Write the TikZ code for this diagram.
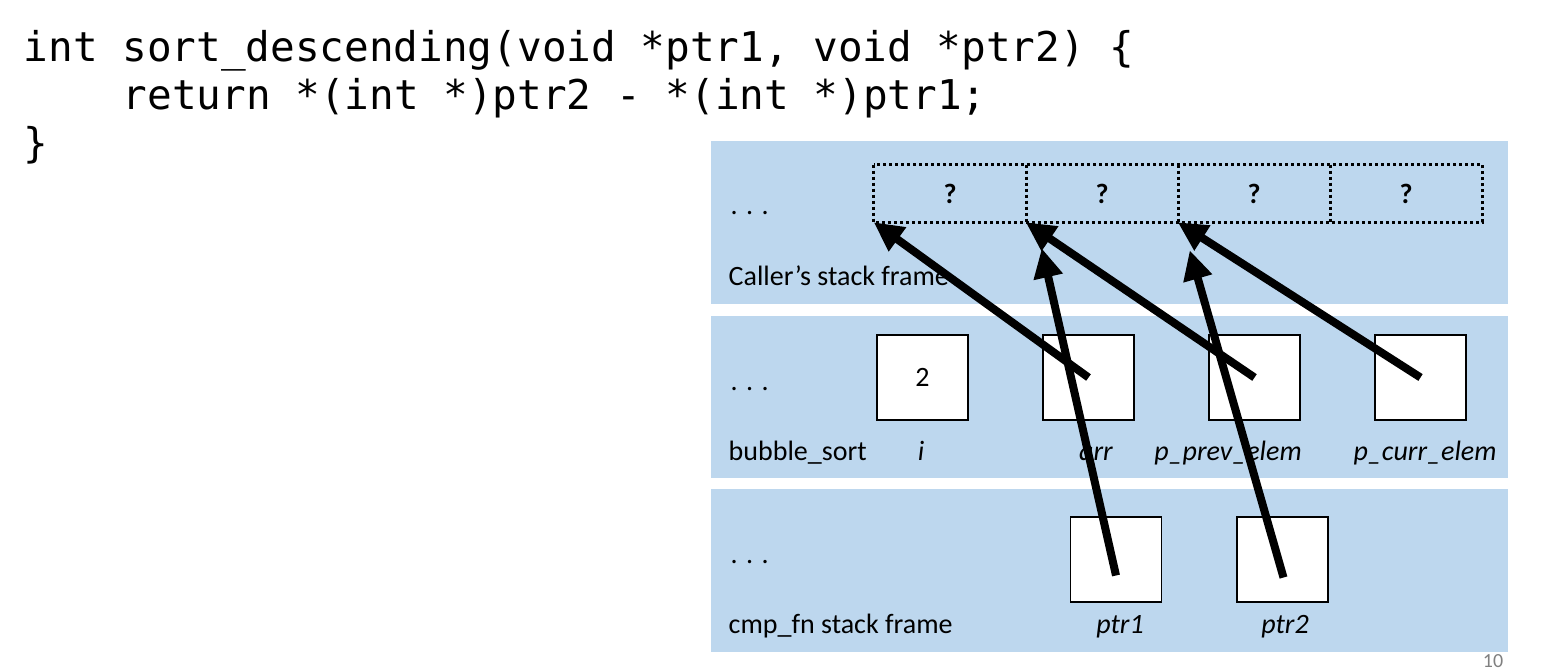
\documentclass[tikz,border=0pt]{standalone}
\usepackage{fontspec}
\setmainfont{Carlito}
\setmonofont{DejaVu Sans Mono}
\usetikzlibrary{arrows.meta}
\definecolor{stackblue}{RGB}{189,215,238}

\begin{document}
\begin{tikzpicture}[x=0.75pt, y=-0.75pt, font=\fontsize{21}{25}\selectfont,
    frame/.style={fill=stackblue},
    cell/.style={minimum width=114pt, minimum height=42.75pt, inner sep=0pt, font=\fontsize{21}{25}\selectfont\bfseries},
    dotline/.style={line width=2.25pt, dash pattern=on 2.25pt off 2.25pt},
    slot/.style={draw, fill=white, line width=0.9pt, minimum width=68.25pt, minimum height=63.75pt, inner sep=0pt},
    varname/.style={anchor=base, font=\fontsize{21}{25}\selectfont\itshape},
    framename/.style={anchor=base west},
    codeline/.style={anchor=base west, font=\ttfamily\fontsize{30.75}{36}\selectfont},
    pointer/.style={line width=6pt, -{Triangle[length=22pt, width=21pt]}}]
    \useasboundingbox (0,0) rectangle (1545,670);
    % slide number
    \node[text=gray, anchor=base, inner sep=0pt, font=\fontsize{15}{17}\selectfont] (pagenum) at (1493,667) {10};
    % the comparison function
    \node[codeline] (code1) at (19,62) {int sort\_descending(void *ptr1, void *ptr2) \{};
    \node[codeline] (code2) at (118,110) {return *(int *)ptr2 - *(int *)ptr1;};
    \node[codeline] (code3) at (19,158) {\}};
    % stack frames
    \fill[frame] (711,141) rectangle (1508,304);
    \fill[frame] (711,316) rectangle (1508,478);
    \fill[frame] (711,489) rectangle (1508,652);
    \node[framename] (dots1) at (726,215) {. . .};
    \node[framename] (dots2) at (726,390) {. . .};
    \node[framename] (dots3) at (726,563) {. . .};
    \node[framename] (caller) at (724,286) {Caller’s stack frame};
    \node[framename] (bubble) at (724,460) {bubble\_sort};
    \node[framename] (cmpfn) at (724,633) {cmp\_fn stack frame};
    % the array in the caller
    \foreach \k in {0,...,3}
      \node[cell] (cell\k) at (950+152*\k,193.5) {?};
    \draw[dotline] (cell0.north west) rectangle (cell3.south east);
    \foreach \k in {0,1,2}
      \draw[dotline] (cell\k.north east) -- (cell\k.south east);
    % bubble_sort
    \node[slot] (i) at (922.5,377.5) {2};
    \node[slot] (arr) at (1088.5,377.5) {};
    \node[slot] (pprev) at (1254.5,377.5) {};
    \node[slot] (pcurr) at (1420.5,377.5) {};
    \node[varname] (iname) at (921,460) {i};
    \node[varname] (arrname) at (1096,460) {arr};
    \node[varname] (pprevname) at (1228,460) {p\_prev\_elem};
    \node[varname] (pcurrname) at (1425,460) {p\_curr\_elem};
    % cmp_fn
    \node[slot] (ptr1) at (1116,559.5) {};
    \node[slot] (ptr2) at (1282.5,559.5) {};
    \node[varname] (ptr1name) at (1120,633) {ptr1};
    \node[varname] (ptr2name) at (1285,633) {ptr2};
    % pointers
    \draw[pointer] (arr.center) -- (cell0.south west);
    \draw[pointer] (pprev.center) -- (cell1.south west);
    \draw[pointer] (pcurr.center) -- (cell2.south west);
    \draw[pointer] ([shift={(0,16)}]ptr1.center) -- ([shift={(16,26)}]cell1.south west);
    \draw[pointer] ([shift={(1,18)}]ptr2.center) -- ([shift={(12,28)}]cell2.south west);
\end{tikzpicture}
\end{document}
